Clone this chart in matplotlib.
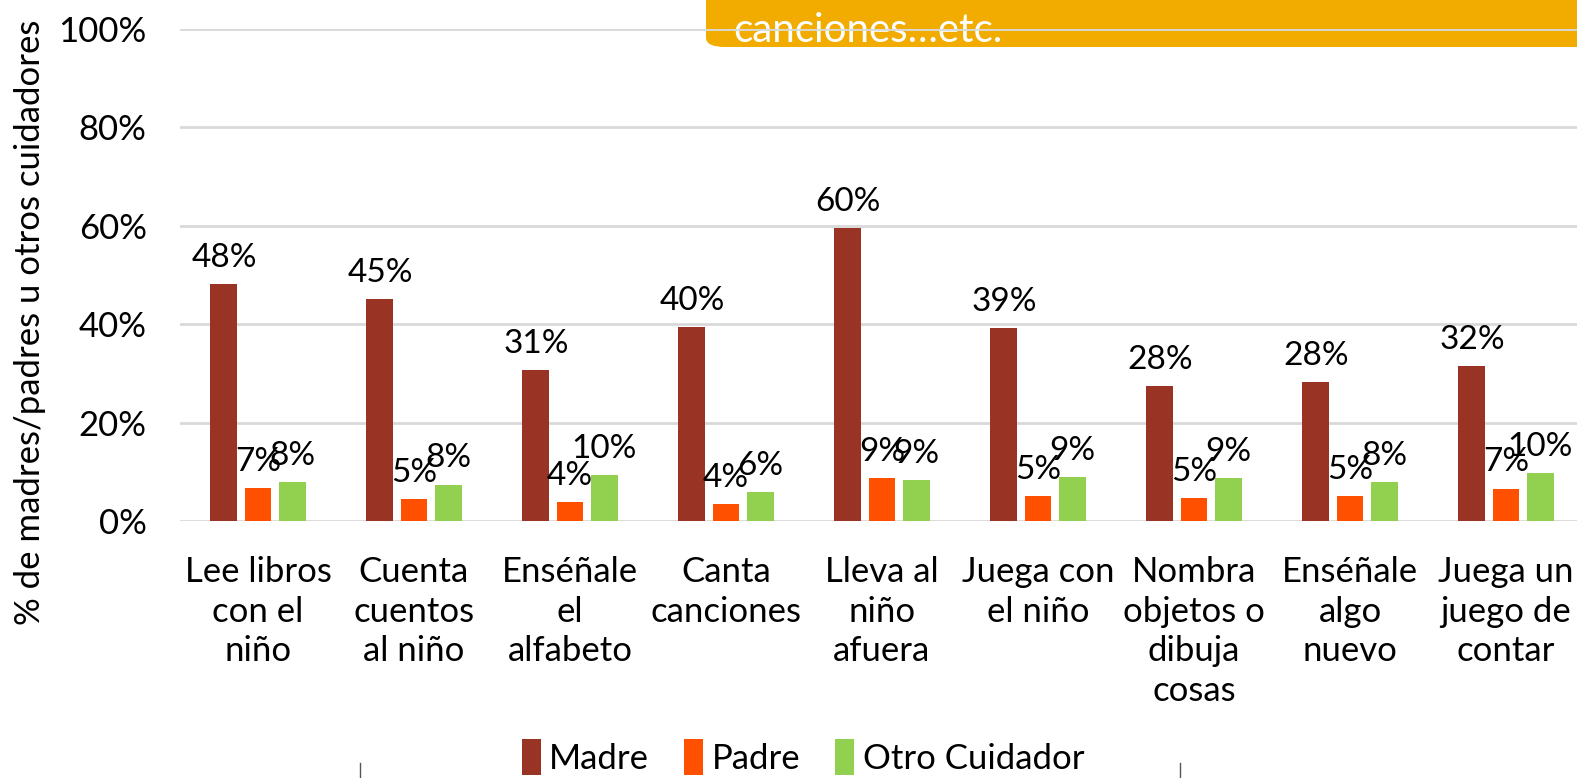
import matplotlib.pyplot as plt
import numpy as np
from matplotlib.patches import FancyBboxPatch

plt.rcParams['font.family'] = ['Lato', 'DejaVu Sans']

categorias = ['Lee libros\ncon el\nniño', 'Cuenta\ncuentos\nal niño', 'Enséñale\nel\nalfabeto',
              'Canta\ncanciones', 'Lleva al\nniño\nafuera', 'Juega con\nel niño',
              'Nombra\nobjetos o\ndibuja\ncosas', 'Enséñale\nalgo\nnuevo', 'Juega un\njuego de\ncontar']
madre = [48.2, 45.1, 30.6, 39.5, 59.5, 39.2, 27.5, 28.3, 31.5]
padre = [6.7, 4.5, 3.9, 3.4, 8.7, 5.1, 4.7, 5.0, 6.6]
otro = [7.9, 7.4, 9.4, 5.9, 8.4, 8.9, 8.7, 7.9, 9.8]
etiq_madre = [48, 45, 31, 40, 60, 39, 28, 28, 32]
etiq_padre = [7, 5, 4, 4, 9, 5, 5, 5, 7]
etiq_otro = [8, 8, 10, 6, 9, 9, 9, 8, 10]
yticks = [0, 20, 40, 60, 80, 100]

fig = plt.figure(figsize=(15.77, 7.78), dpi=100)

# bandeau orange derrière le graphique
bandeau = FancyBboxPatch((706 / 1577, 1 - 47 / 778), 1.0, 0.2,
                         boxstyle='round,pad=0,rounding_size=0.012',
                         transform=fig.transFigure, facecolor='#F2AC00',
                         edgecolor='none', zorder=0)
fig.patches.append(bandeau)
fig.text(733 / 1577, 1 - 31 / 778, 'canciones…etc.', color='white', fontsize=29,
         va='center', ha='left', zorder=1)

ax = fig.add_axes([180 / 1577, 257 / 778, (1584 - 180) / 1577, (521 - 29) / 778])
ax.set_facecolor('none')
ax.set_zorder(2)

x = np.arange(len(categorias))
dx = 0.218
w = 0.173
b1 = ax.bar(x - dx, madre, w, color='#993324', label='Madre', zorder=3)
b2 = ax.bar(x, padre, w, color='#FF5000', label='Padre', zorder=3)
b3 = ax.bar(x + dx, otro, w, color='#92D050', label='Otro Cuidador', zorder=3)

for barres, etiq in [(b1, etiq_madre), (b2, etiq_padre), (b3, etiq_otro)]:
    for b, e in zip(barres, etiq):
        ax.annotate(f'{e}%', (b.get_x() + b.get_width() / 2, b.get_height()),
                    xytext=(0, 8), textcoords='offset points',
                    ha='center', va='bottom', fontsize=24, zorder=4)

ax.set_xlim(-0.5, len(categorias) - 0.5)
ax.set_ylim(0, 100)
ax.set_yticks(yticks)
ax.set_yticklabels([f'{v}%' for v in yticks], fontsize=25)
ax.set_xticks(x)
ax.set_xticklabels(categorias, fontsize=25, linespacing=1.3)
ax.tick_params(length=0)
ax.tick_params(axis='y', pad=24)
ax.tick_params(axis='x', pad=25)
ax.grid(axis='y', color='#D9D9D9', linewidth=2, zorder=0)
for s in ax.spines.values():
    s.set_visible(False)

fig.text(30 / 1577, 1 - 322 / 778, '% de madres/padres u otros cuidadores',
         rotation=90, fontsize=25, ha='center', va='center')

fig.legend(handles=[b1, b2, b3], loc='center', bbox_to_anchor=(803 / 1577, 1 - 757 / 778),
           ncol=3, frameon=False, fontsize=25, handlelength=0.55, handleheight=1.2,
           handletextpad=0.25, columnspacing=1.0)

# petits traits en bas
for xp in [360, 1180]:
    fig.add_artist(plt.Line2D([xp / 1577, xp / 1577], [0, 15 / 778], color='#555555', linewidth=1))

fig.savefig('out.png', dpi=100)
